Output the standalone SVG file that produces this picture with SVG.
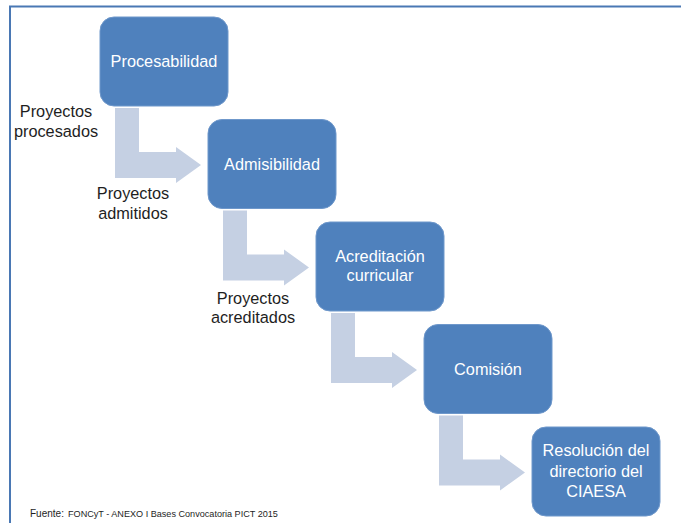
<svg xmlns="http://www.w3.org/2000/svg" width="681" height="523" viewBox="0 0 681 523">
<defs>
<style>
.node rect{fill:#4F81BD;stroke:#6F98CB;stroke-width:1}
.node text{fill:#FFFFFF;font-family:"Liberation Sans",Arial,sans-serif;font-size:16.3px;text-anchor:middle}
.conn{fill:#C5D0E3}
.lbl{fill:#1E1E1E;font-family:"Liberation Sans",Arial,sans-serif;font-size:16.3px;text-anchor:middle}
.src{fill:#1E1E1E;font-family:"Liberation Sans",Arial,sans-serif}
</style>
<path id="bent" d="M115,108 H139 V152 H176 V147 L201,165 L176,183 V178 H115 Z"/>
</defs>
<rect width="681" height="523" fill="#FFFFFF"/>
<g id="frame" fill="none" stroke="#4A78B4" stroke-width="2">
<path d="M10,523 V6.5 H681"/>
</g>
<g id="connectors" class="conn" fill="#C5D0E3">
<use href="#bent" fill="#C5D0E3"/>
<use href="#bent" fill="#C5D0E3" transform="translate(108,102.5)"/>
<use href="#bent" fill="#C5D0E3" transform="translate(216,205)"/>
<use href="#bent" fill="#C5D0E3" transform="translate(324,307.5)"/>
</g>
<g id="node-procesabilidad" class="node">
<rect x="100" y="17" width="128" height="89" rx="14"/>
<text x="164" y="67">Procesabilidad</text>
</g>
<g id="node-admisibilidad" class="node">
<rect x="208" y="119.5" width="128" height="89" rx="14"/>
<text x="272" y="169.5">Admisibilidad</text>
</g>
<g id="node-acreditacion" class="node">
<rect x="316" y="222" width="128" height="89" rx="14"/>
<text x="380" y="262">Acreditación</text>
<text x="380" y="281">curricular</text>
</g>
<g id="node-comision" class="node">
<rect x="424" y="324.5" width="128" height="89" rx="14"/>
<text x="488" y="374.5">Comisión</text>
</g>
<g id="node-resolucion" class="node">
<rect x="532" y="427" width="128" height="89" rx="14"/>
<text x="596" y="456">Resolución del</text>
<text x="596" y="477">directorio del</text>
<text x="596" y="497">CIAESA</text>
</g>
<g id="labels">
<text class="lbl" x="56" y="117">Proyectos</text>
<text class="lbl" x="56" y="137">procesados</text>
<text class="lbl" x="133" y="199">Proyectos</text>
<text class="lbl" x="133" y="219">admitidos</text>
<text class="lbl" x="253" y="304">Proyectos</text>
<text class="lbl" x="253" y="323">acreditados</text>
</g>
<g id="source">
<text class="src" x="30" y="517" font-size="10">Fuente:</text>
<text class="src" x="68" y="517" font-size="9.1">FONCyT - ANEXO I Bases Convocatoria PICT 2015</text>
</g>
</svg>
